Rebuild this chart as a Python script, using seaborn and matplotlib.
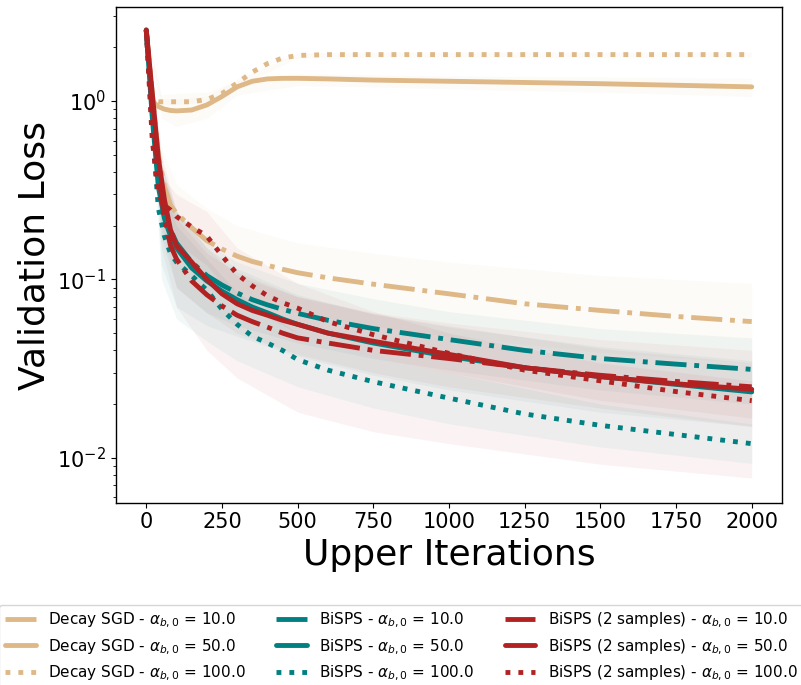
import numpy as np
import pandas as pd
import matplotlib
matplotlib.use("Agg")
import matplotlib.pyplot as plt
import seaborn as sns

# ---------------- data ----------------
iters = [0, 20, 40, 60, 80, 100, 150, 200, 250, 300, 350, 400, 450, 500,
         600, 750, 1000, 1250, 1500, 1750, 2000]

sgd_10 = [2.5, 1.1, 0.5, 0.33, 0.26, 0.235, 0.195, 0.165, 0.148, 0.135, 0.126, 0.12,
          0.114, 0.109, 0.102, 0.094, 0.083, 0.073, 0.067, 0.062, 0.058]
sgd_50 = [2.5, 1.0, 0.93, 0.90, 0.885, 0.88, 0.89, 0.95, 1.06, 1.2, 1.29, 1.33,
          1.34, 1.34, 1.33, 1.31, 1.29, 1.27, 1.25, 1.225, 1.2]
sgd_100 = [2.5, 1.0, 0.99, 0.99, 0.99, 0.99, 0.99, 1.02, 1.1, 1.26, 1.45, 1.62,
           1.74, 1.8, 1.82, 1.82, 1.82, 1.82, 1.82, 1.82, 1.82]
bisps_10 = [2.5, 0.9, 0.38, 0.24, 0.19, 0.16, 0.125, 0.105, 0.093, 0.084, 0.077, 0.072,
            0.068, 0.0645, 0.059, 0.053, 0.046, 0.040, 0.036, 0.0335, 0.0313]
bisps_50 = [2.5, 0.8, 0.33, 0.22, 0.175, 0.15, 0.116, 0.098, 0.086, 0.077, 0.070, 0.065,
            0.060, 0.056, 0.050, 0.044, 0.037, 0.032, 0.0285, 0.0258, 0.0234]
bisps_100 = [2.5, 0.7, 0.25, 0.175, 0.14, 0.125, 0.105, 0.087, 0.068, 0.056, 0.048, 0.044,
             0.040, 0.0355, 0.031, 0.0267, 0.0216, 0.0176, 0.0152, 0.0135, 0.012]
bisps2_10 = [2.5, 0.9, 0.4, 0.22, 0.155, 0.13, 0.098, 0.082, 0.071, 0.063, 0.058, 0.054,
             0.050, 0.047, 0.044, 0.040, 0.036, 0.032, 0.029, 0.0268, 0.025]
bisps2_50 = [2.5, 1.1, 0.48, 0.28, 0.19, 0.155, 0.125, 0.10, 0.083, 0.073, 0.067, 0.063,
             0.059, 0.056, 0.050, 0.045, 0.038, 0.032, 0.0285, 0.026, 0.0242]
bisps2_100 = [2.5, 0.6, 0.3, 0.26, 0.245, 0.225, 0.197, 0.175, 0.136, 0.107, 0.092, 0.081,
              0.074, 0.069, 0.058, 0.049, 0.0385, 0.031, 0.027, 0.0235, 0.0209]

# shaded bands (read at a coarser set of iterations)
band_iters = [0, 50, 100, 200, 300, 500, 750, 1000, 1500, 2000]
sgd_10_lo = [2.5, 0.25, 0.15, 0.1, 0.08, 0.065, 0.055, 0.048, 0.039, 0.034]
sgd_10_hi = [2.5, 0.55, 0.34, 0.25, 0.2, 0.16, 0.14, 0.125, 0.105, 0.095]
sgd_50_lo = [2.5, 0.8, 0.72, 0.8, 1.08, 1.22, 1.2, 1.17, 1.12, 1.06]
sgd_50_hi = [2.5, 1.08, 1.1, 1.12, 1.3, 1.42, 1.4, 1.38, 1.36, 1.34]
sgd_100_lo = [2.5, 0.96, 0.96, 0.98, 1.2, 1.74, 1.76, 1.76, 1.76, 1.76]
sgd_100_hi = [2.5, 1.03, 1.03, 1.06, 1.32, 1.86, 1.88, 1.88, 1.88, 1.88]
bisps_10_lo = [2.5, 0.17, 0.09, 0.065, 0.055, 0.044, 0.036, 0.031, 0.024, 0.02]
bisps_10_hi = [2.5, 0.45, 0.24, 0.16, 0.125, 0.095, 0.078, 0.066, 0.053, 0.047]
bisps_50_lo = [2.5, 0.12, 0.07, 0.055, 0.048, 0.037, 0.029, 0.024, 0.018, 0.015]
bisps_50_hi = [2.5, 0.4, 0.24, 0.15, 0.115, 0.082, 0.064, 0.054, 0.042, 0.035]
bisps_100_lo = [2.5, 0.1, 0.06, 0.045, 0.035, 0.025, 0.019, 0.0155, 0.0115, 0.0093]
bisps_100_hi = [2.5, 0.35, 0.2, 0.13, 0.085, 0.05, 0.037, 0.03, 0.02, 0.0155]
bisps2_10_lo = [2.5, 0.15, 0.07, 0.04, 0.028, 0.018, 0.014, 0.012, 0.0092, 0.0077]
bisps2_10_hi = [2.5, 0.45, 0.22, 0.14, 0.11, 0.08, 0.065, 0.057, 0.046, 0.04]
bisps2_50_lo = [2.5, 0.2, 0.09, 0.065, 0.05, 0.038, 0.03, 0.025, 0.019, 0.015]
bisps2_50_hi = [2.5, 0.5, 0.24, 0.15, 0.105, 0.08, 0.064, 0.055, 0.041, 0.034]
bisps2_100_lo = [2.5, 0.2, 0.16, 0.12, 0.075, 0.05, 0.037, 0.03, 0.021, 0.0167]
bisps2_100_hi = [2.5, 0.38, 0.3, 0.24, 0.15, 0.095, 0.066, 0.05, 0.034, 0.027]

x_ticks = [0, 250, 500, 750, 1000, 1250, 1500, 1750, 2000]

series = [
    ("Decay SGD - $\\alpha_{b,0}$ = 10.0", sgd_10, sgd_10_lo, sgd_10_hi, "burlywood", "-."),
    ("Decay SGD - $\\alpha_{b,0}$ = 50.0", sgd_50, sgd_50_lo, sgd_50_hi, "burlywood", "-"),
    ("Decay SGD - $\\alpha_{b,0}$ = 100.0", sgd_100, sgd_100_lo, sgd_100_hi, "burlywood", ":"),
    ("BiSPS - $\\alpha_{b,0}$ = 10.0", bisps_10, bisps_10_lo, bisps_10_hi, "teal", "-."),
    ("BiSPS - $\\alpha_{b,0}$ = 50.0", bisps_50, bisps_50_lo, bisps_50_hi, "teal", "-"),
    ("BiSPS - $\\alpha_{b,0}$ = 100.0", bisps_100, bisps_100_lo, bisps_100_hi, "teal", ":"),
    ("BiSPS (2 samples) - $\\alpha_{b,0}$ = 10.0", bisps2_10, bisps2_10_lo, bisps2_10_hi, "firebrick", "-."),
    ("BiSPS (2 samples) - $\\alpha_{b,0}$ = 50.0", bisps2_50, bisps2_50_lo, bisps2_50_hi, "firebrick", "-"),
    ("BiSPS (2 samples) - $\\alpha_{b,0}$ = 100.0", bisps2_100, bisps2_100_lo, bisps2_100_hi, "firebrick", ":"),
]

# ---------------- plot ----------------
sns.set_style("ticks")
plt.rcParams['font.family'] = ['DejaVu Sans']
plt.rcParams.update({"text.color": "black", "axes.labelcolor": "black",
                     "xtick.color": "black", "ytick.color": "black",
                     "axes.edgecolor": "black"})

fig = plt.figure(figsize=(8.01, 6.85), dpi=100)
ax = fig.add_axes([0.1448, 0.2661, 0.8315, 0.7232])

for label, y, lo, hi, color, ls in series:
    ax.fill_between(band_iters, lo, hi, color=color, alpha=0.05, linewidth=0)

handles = []
for label, y, lo, hi, color, ls in series:
    df = pd.DataFrame({"Upper Iterations": iters, "Validation Loss": y})
    sns.lineplot(data=df, x="Upper Iterations", y="Validation Loss", ax=ax,
                 color=color, linestyle=ls, linewidth=3.5, label=label, legend=False)
    handles.append(ax.lines[-1])

ax.set_yscale("log")
ax.set_xlim(-100, 2100)
ax.set_ylim(0.0056, 3.35)
ax.set_xticks(x_ticks)
ax.tick_params(axis="both", which="major", labelsize=15, colors="black")
ax.tick_params(axis="y", which="minor", colors="black")
ax.set_xlabel("Upper Iterations", fontsize=26)
ax.set_ylabel("Validation Loss", fontsize=26)
for s in ax.spines.values():
    s.set_linewidth(1.0)
    s.set_color("black")

fig.legend(handles, [s[0] for s in series], loc="upper center",
           bbox_to_anchor=(0.501, 0.128), ncol=3, fontsize=11, frameon=True,
           labelspacing=0.45, columnspacing=2.0)

fig.savefig("out.png", dpi=100)
